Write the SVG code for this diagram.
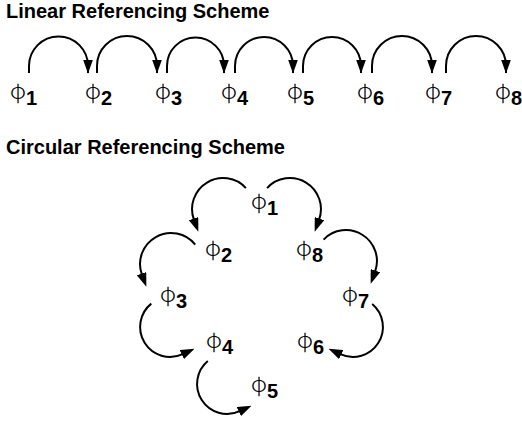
<svg xmlns="http://www.w3.org/2000/svg" width="522" height="422" viewBox="0 0 522 422">
<style>
.title{font-family:"Liberation Sans",Arial,sans-serif;font-weight:bold;font-size:20px;fill:#000}
.phi{font-family:"Noto Sans CJK JP","Noto Sans",sans-serif;font-weight:300;font-size:22px;fill:#000}
.num{font-family:"Liberation Sans",Arial,sans-serif;font-weight:bold;font-size:20px}
.lin{fill:none;stroke:#000;stroke-width:2;marker-end:url(#ahTip)}
.circ{fill:none;stroke:#000;stroke-width:2;marker-end:url(#ahBase)}
</style>
<defs>
<marker id="ahTip" markerUnits="userSpaceOnUse" viewBox="0 0 14 10" markerWidth="14" markerHeight="10" refX="13.5" refY="5" orient="auto">
<path d="M0,0 L14,5 L0,10 z" fill="#000"/>
</marker>
<marker id="ahBase" markerUnits="userSpaceOnUse" viewBox="0 0 14 10" markerWidth="14" markerHeight="10" refX="1" refY="5" orient="auto">
<path d="M0,0 L14,5 L0,10 z" fill="#000"/>
</marker>
</defs>
<rect width="522" height="422" fill="#fff"/>
<text class="title" x="6" y="18">Linear Referencing Scheme</text>
<text class="title" x="6" y="154">Circular Referencing Scheme</text>

<g id="connectors">
<path class="lin" d="M29,73 V66 A29.5,29.5 0 0 1 88,66 V73"/>
<path class="lin" d="M97,73 V66 A30,30 0 0 1 157,66 V73"/>
<path class="lin" d="M167,73 V66 A28.5,28.5 0 0 1 224,66 V73"/>
<path class="lin" d="M235,73 V66 A29,29 0 0 1 293,66 V73"/>
<path class="lin" d="M303,73 V66 A29,29 0 0 1 361,66 V73"/>
<path class="lin" d="M372,73 V66 A30,30 0 0 1 432,66 V73"/>
<path class="lin" d="M446,73 V66 A30,30 0 0 1 506,66 V73"/>

<path class="circ" d="M245.9,188.1 A31,31 0 0 0 193.9,219.6"/>
<path class="circ" d="M267.1,188.1 A31,31 0 0 1 319.1,219.6"/>
<path class="circ" d="M195.2,244.6 A31,31 0 0 0 141.9,274.6"/>
<path class="circ" d="M323.6,239.6 A31,31 0 0 1 375.1,271.6"/>
<path class="circ" d="M151.3,303.6 A30,30 0 0 0 182.7,354.2"/>
<path class="circ" d="M207.8,361 A30,30 0 0 0 239.7,411.2"/>
<path class="circ" d="M372.2,304 A30,30 0 0 1 340.3,354.2"/>
</g>

<g id="lin-phi1"><text class="phi" x="10" y="99">φ<tspan class="num" dy="6">1</tspan></text></g>
<g id="lin-phi2"><text class="phi" x="85" y="99">φ<tspan class="num" dy="6">2</tspan></text></g>
<g id="lin-phi3"><text class="phi" x="155" y="99">φ<tspan class="num" dy="6">3</tspan></text></g>
<g id="lin-phi4"><text class="phi" x="221" y="99">φ<tspan class="num" dy="6">4</tspan></text></g>
<g id="lin-phi5"><text class="phi" x="287" y="99">φ<tspan class="num" dy="6">5</tspan></text></g>
<g id="lin-phi6"><text class="phi" x="357" y="99">φ<tspan class="num" dy="6">6</tspan></text></g>
<g id="lin-phi7"><text class="phi" x="425" y="99">φ<tspan class="num" dy="6">7</tspan></text></g>
<g id="lin-phi8"><text class="phi" x="495" y="99">φ<tspan class="num" dy="6">8</tspan></text></g>

<g id="circ-phi1"><text class="phi" x="251" y="209">φ<tspan class="num" dy="6">1</tspan></text></g>
<g id="circ-phi2"><text class="phi" x="205" y="256">φ<tspan class="num" dy="6">2</tspan></text></g>
<g id="circ-phi3"><text class="phi" x="160" y="302">φ<tspan class="num" dy="6">3</tspan></text></g>
<g id="circ-phi4"><text class="phi" x="206" y="348">φ<tspan class="num" dy="6">4</tspan></text></g>
<g id="circ-phi5"><text class="phi" x="251" y="392">φ<tspan class="num" dy="6">5</tspan></text></g>
<g id="circ-phi6"><text class="phi" x="297" y="348">φ<tspan class="num" dy="6">6</tspan></text></g>
<g id="circ-phi7"><text class="phi" x="342" y="302">φ<tspan class="num" dy="6">7</tspan></text></g>
<g id="circ-phi8"><text class="phi" x="296" y="256">φ<tspan class="num" dy="6">8</tspan></text></g>
</svg>
